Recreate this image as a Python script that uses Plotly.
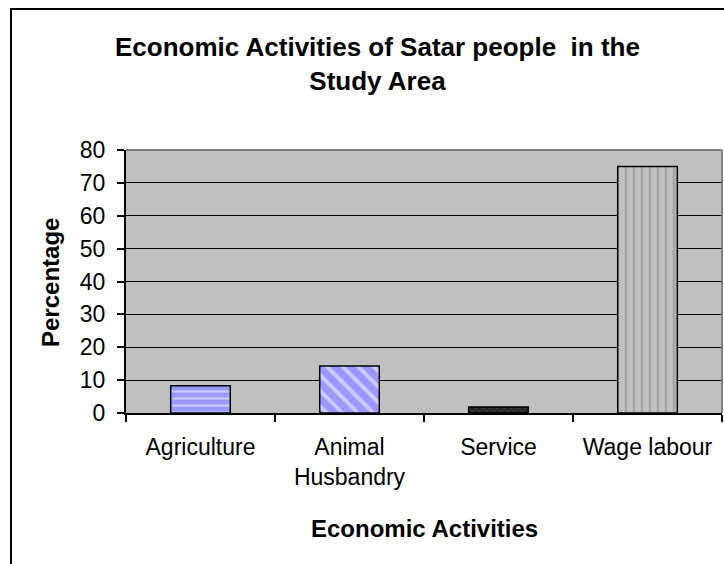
import plotly.graph_objects as go

categories = ["Agriculture", "Animal<br>Husbandry", "Service", "Wage labour"]
percentages = [8.3, 14.3, 1.8, 75.0]
y_ticks = [0, 10, 20, 30, 40, 50, 60, 70, 80]

title_text = "<b>Economic Activities of Satar people  in the<br>Study Area</b>"
x_title = "<b>Economic Activities</b>"
y_title = "<b>Percentage</b>"

FONT = "Liberation Sans, Arial, sans-serif"

base_colors = ["#9999FF", "#9999FF", "#262626", "#C0C0C0"]

fig = go.Figure()
# solid base fill
fig.add_trace(go.Bar(
    x=categories,
    y=percentages,
    width=0.4,
    marker=dict(color=base_colors, line=dict(color="black", width=0)),
    showlegend=False,
    hoverinfo="skip",
))
# pattern overlay with black outline
fig.add_trace(go.Bar(
    x=categories,
    y=percentages,
    width=0.4,
    marker=dict(
        color="rgba(0,0,0,0)",
        line=dict(color="black", width=1.5),
        pattern=dict(
            shape=["-", "\\", "x", "|"],
            fgcolor=["white", "white", "#5a5a5a", "#8a8a8a"],
            bgcolor="rgba(0,0,0,0)",
            size=[7, 11, 5, 8],
            solidity=[0.3, 0.35, 0.3, 0.3],
        ),
    ),
    showlegend=False,
    hoverinfo="x+y",
))

L, R, T, B = 126, 2, 150, 151
W, H = 724, 564
pw, ph = W - L - R, H - T - B

def px_x(x):
    return (x - L) / pw

def px_y(y):
    return (H - B - y) / ph

fig.update_layout(
    width=W, height=H,
    margin=dict(l=L, r=R, t=T, b=B, pad=0),
    paper_bgcolor="white",
    plot_bgcolor="#C0C0C0",
    font=dict(family=FONT, size=23, color="black"),
    barmode="overlay",
    xaxis=dict(
        type="category",
        tickson="boundaries",
        ticks="outside", ticklen=7, tickcolor="black", tickwidth=1.5,
        ticklabelstandoff=12,
        showline=True, linecolor="black", linewidth=2,
        showgrid=False,
        tickfont=dict(family=FONT, size=23, color="black"),
    ),
    yaxis=dict(
        range=[0, 80],
        tickvals=y_ticks,
        ticks="outside", ticklen=7, tickcolor="black", tickwidth=1.5,
        ticklabelstandoff=7,
        showline=True, linecolor="black", linewidth=2,
        showgrid=True, gridcolor="black", gridwidth=1.2,
        zeroline=False,
        tickfont=dict(family=FONT, size=23, color="black"),
    ),
    shapes=[
        dict(type="line", xref="paper", yref="paper", x0=0, x1=1, y0=1, y1=1,
             line=dict(color="#808080", width=2)),
        dict(type="line", xref="paper", yref="paper", x0=1, x1=1, y0=0, y1=1,
             line=dict(color="#808080", width=2)),
        dict(type="rect", xref="paper", yref="paper",
             x0=px_x(11), x1=px_x(740), y0=px_y(580), y1=px_y(9),
             line=dict(color="black", width=2), fillcolor="rgba(0,0,0,0)"),
    ],
    annotations=[
        dict(text=title_text, xref="paper", yref="paper",
             x=px_x(377), y=px_y(30), xanchor="center", yanchor="top",
             showarrow=False, font=dict(family=FONT, size=26, color="black")),
        dict(text=x_title, xref="paper", yref="paper",
             x=px_x(424), y=px_y(528), xanchor="center", yanchor="middle",
             showarrow=False, font=dict(family=FONT, size=24, color="black")),
        dict(text=y_title, xref="paper", yref="paper",
             x=px_x(50), y=px_y(283), xanchor="center", yanchor="middle",
             textangle=-90,
             showarrow=False, font=dict(family=FONT, size=24, color="black")),
    ],
)

fig.write_html("out.html")
